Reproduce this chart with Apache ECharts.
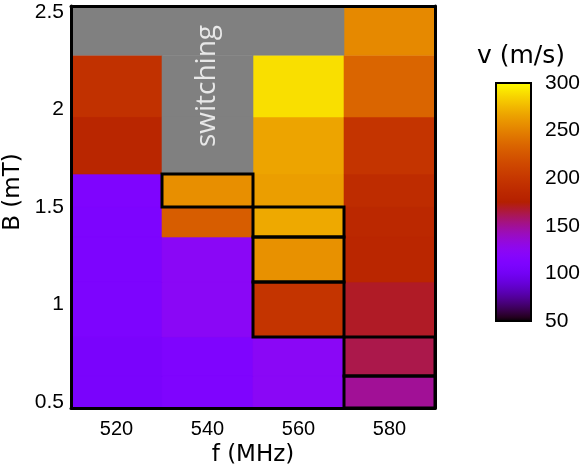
<!DOCTYPE html>
<html><head><meta charset="utf-8">
<script src="https://cdn.jsdelivr.net/npm/echarts@6/dist/echarts.min.js"></script>
<style>html,body{margin:0;padding:0;background:#fff}#c{width:582px;height:471px}</style>
</head><body><div id="c"></div>
<script>
// categories (f, MHz)
const freqs = ['520', '540', '560', '580'];
// row edges in B (mT), bottom to top
const bEdges = [0.469, 0.633, 0.833, 1.115, 1.346, 1.5, 1.669, 1.962, 2.279, 2.531];
// velocity v (m/s) per row (bottom to top) for each frequency; null = switching
const v520 = [107, 107, 110, 110, 110, 112, 182, 194, null];
const v540 = [112, 112, 123, 123, 229, 256, null, null, null];
const v560 = [123, 123, 197, 257, 268, 263, 266, 289, null];
const v580 = [150, 163, 169, 183, 185, 189, 197, 234, 253];
// outlined cells: [freq index, row index]
const outlined = [[1, 5], [2, 4], [2, 3], [2, 2], [3, 1], [3, 0]];
// tick labels
const yTicks = [0.5, 1, 1.5, 2, 2.5];
const cbTicks = [50, 100, 150, 200, 250, 300];
const vMin = 50, vMax = 300;

const columns = [v520, v540, v560, v580];
const cells = [], gray = [];
columns.forEach((col, xi) => {
  col.forEach((v, r) => {
    if (v === null) gray.push([xi, bEdges[r], bEdges[r + 1]]);
    else cells.push([xi, bEdges[r], bEdges[r + 1], v]);
  });
});
const boxes = outlined.map(([xi, r]) => [xi, bEdges[r], bEdges[r + 1]]);

// gnuplot default palette (rgbformulae 7,5,15)
function pal(t) {
  const r = Math.sqrt(t), g = t * t * t, b = Math.max(0, Math.sin(2 * Math.PI * t));
  const h = x => Math.round(Math.min(1, Math.max(0, x)) * 255).toString(16).padStart(2, '0');
  return '#' + h(r) + h(g) + h(b);
}
const stops = [];
for (let i = 0; i <= 50; i++) stops.push(pal(i / 50));

function rectOf(api) {
  const xi = api.value(0);
  const pTop = api.coord([xi, api.value(2)]);
  const pBot = api.coord([xi, api.value(1)]);
  const w = api.size([1, 0])[0];
  return { x: pTop[0] - w / 2, y: pTop[1], width: w, height: pBot[1] - pTop[1] };
}

const chart = echarts.init(document.getElementById('c'), null, { renderer: 'canvas' });
const GL = 71, GT = 6, GW = 364, GH = 402;
const CBL = 496, CBT = 83, CBW = 35, CBH = 238;
const tickFont = { fontFamily: 'Liberation Sans', fontSize: 20, color: '#000' };

chart.setOption({
  animation: false,
  grid: [
    { left: GL, top: GT, width: GW, height: GH, outerBoundsMode: 'none', containLabel: false },
    { left: CBL, top: CBT, width: CBW, height: CBH, outerBoundsMode: 'none', containLabel: false }
  ],
  xAxis: [
    { gridIndex: 0, type: 'category', data: freqs, boundaryGap: true, z: 10,
      axisLine: { lineStyle: { color: '#000', width: 3 } }, axisTick: { show: false },
      axisLabel: Object.assign({ margin: 11 }, tickFont),
      name: 'f (MHz)', nameLocation: 'middle', nameGap: 34,
      nameTextStyle: { fontFamily: 'DejaVu Sans', fontSize: 23, color: '#000' } },
    { gridIndex: 0, type: 'category', data: freqs, position: 'top', z: 10,
      axisLine: { lineStyle: { color: '#000', width: 3 } }, axisTick: { show: false }, axisLabel: { show: false } },
    { gridIndex: 1, type: 'value', show: false, min: 0, max: 1 }
  ],
  yAxis: [
    { gridIndex: 0, type: 'value', min: bEdges[0], max: bEdges[bEdges.length - 1], z: 10,
      axisLine: { show: true, lineStyle: { color: '#000', width: 3 } }, axisTick: { show: false },
      splitLine: { show: false },
      axisLabel: Object.assign({}, tickFont, { margin: 7, fontSize: 21, customValues: yTicks, formatter: v => String(v) }) },
    { gridIndex: 0, type: 'value', position: 'right', min: bEdges[0], max: bEdges[bEdges.length - 1], z: 10,
      axisLine: { show: true, lineStyle: { color: '#000', width: 3 } }, axisTick: { show: false },
      splitLine: { show: false }, axisLabel: { show: false } },
    { gridIndex: 1, type: 'value', position: 'right', min: vMin, max: vMax, interval: 50,
      axisLine: { show: false }, axisTick: { show: false }, splitLine: { show: false },
      axisLabel: Object.assign({}, tickFont, { margin: 14, fontSize: 21, customValues: cbTicks }) }
  ],
  visualMap: {
    show: false, type: 'continuous', min: vMin, max: vMax, dimension: 3, seriesIndex: 0,
    inRange: { color: stops }
  },
  series: [
    { type: 'custom', xAxisIndex: 0, yAxisIndex: 0, data: cells, encode: { x: 0, y: [1, 2] },
      renderItem: (params, api) => {
        const c = api.visual('color');
        return { type: 'rect', shape: rectOf(api), style: { fill: c, stroke: c, lineWidth: 0.6 } };
      } },
    { type: 'custom', xAxisIndex: 0, yAxisIndex: 0, data: gray, encode: { x: 0, y: [1, 2] },
      renderItem: (params, api) => ({ type: 'rect', shape: rectOf(api),
        style: { fill: '#808080', stroke: '#808080', lineWidth: 0.6 } }) },
    { type: 'custom', xAxisIndex: 0, yAxisIndex: 0, data: boxes, encode: { x: 0, y: [1, 2] }, z: 5,
      renderItem: (params, api) => ({ type: 'rect', shape: rectOf(api),
        style: { fill: 'none', stroke: '#000', lineWidth: 3 } }) }
  ]
});

// "switching" label, placed at the centre of the gray region of the 540 MHz column
const grayCol = gray.filter(g => g[0] === 1);
const gMid = (Math.min(...grayCol.map(g => g[1])) + Math.max(...grayCol.map(g => g[2]))) / 2;
const pt = chart.convertToPixel({ xAxisIndex: 0, yAxisIndex: 0 }, [1, gMid]);
chart.setOption({ graphic: [
  { type: 'rect', x: CBL, y: CBT, z: 20,
    shape: { x: 0, y: 0, width: CBW, height: CBH },
    style: { fill: new echarts.graphic.LinearGradient(0, 1, 0, 0,
      stops.map((c, i) => ({ offset: i / (stops.length - 1), color: c }))),
      stroke: '#000', lineWidth: 2 } },
  { type: 'text', x: 521, y: 56, z: 20,
    style: { text: 'v (m/s)', fontSize: 25, fontFamily: 'DejaVu Sans', fill: '#000',
      align: 'center', verticalAlign: 'middle' } },
  { type: 'text', x: 13, y: 192, rotation: Math.PI / 2, z: 20,
    style: { text: 'B (mT)', fontSize: 23, fontFamily: 'DejaVu Sans', fill: '#000',
      align: 'center', verticalAlign: 'middle' } },
  { type: 'text', x: pt[0], y: pt[1] - 4, rotation: Math.PI / 2, z: 20,
    style: { text: 'switching', fontSize: 28, fontFamily: 'Open Sans', fill: '#e8e8e8',
      align: 'center', verticalAlign: 'middle' } }
] });
</script></body></html>
